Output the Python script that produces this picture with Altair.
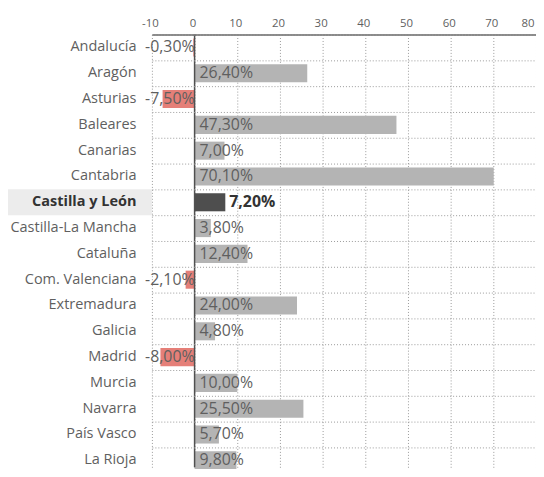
import altair as alt
import pandas as pd

regions = ["Andalucía", "Aragón", "Asturias", "Baleares", "Canarias", "Cantabria",
           "Castilla y León", "Castilla-La Mancha", "Cataluña", "Com. Valenciana",
           "Extremadura", "Galicia", "Madrid", "Murcia", "Navarra", "País Vasco", "La Rioja"]
values = [-0.3, 26.4, -7.5, 47.3, 7.0, 70.1, 7.2, 3.8, 12.4, -2.1, 24.0, 4.8, -8.0,
          10.0, 25.5, 5.7, 9.8]
highlight = "Castilla y León"
ticks = [-10, 0, 10, 20, 30, 40, 50, 60, 70, 80]


def fmt(v):
    return f"{v:.2f}".replace(".", ",") + "%"


df = pd.DataFrame({
    "region": regions,
    "value": values,
    "label": [fmt(v) for v in values],
    "kind": ["hl" if r == highlight else ("neg" if v < 0 else "pos")
             for r, v in zip(regions, values)],
})

FONT = "Open Sans"
TXT = "#5f5f5f"
VFS = 16

yenc = alt.Y(
    "region:N", sort=regions, title=None,
    scale=alt.Scale(range=[0, 442], paddingInner=0, paddingOuter=0),
    axis=alt.Axis(
        domain=False, ticks=False, labelPadding=16, labelFont=FONT, labelFontSize=14.6,
        labelColor={"condition": {"test": f"datum.value == '{highlight}'", "value": "#333333"},
                    "value": TXT},
        labelFontWeight={"condition": {"test": f"datum.value == '{highlight}'", "value": "bold"},
                         "value": "normal"},
        grid=True, bandPosition=0, gridDash=[1, 2], gridColor="#9a9a9a", gridWidth=1,
    ),
)

xscale = alt.Scale(domain=[-10, 80], nice=False, zero=False)
xaxis = alt.Axis(orient="top", values=ticks, ticks=False, domain=True,
                 domainColor="#8a8a8a", domainWidth=2, grid=True, gridDash=[1, 2],
                 gridColor="#9a9a9a", title=None,
                 labelFlush=False, labelExpr="'' + datum.value", labelOffset=-2,
                 labelAlign={"condition": {"test": "datum.value == 80", "value": "right"},
                             "value": "center"},
                 labelPadding=6, labelFont=FONT, labelFontSize=11.5, labelColor=TXT)

base = alt.Chart(df)

hl_bg = base.transform_filter(f"datum.region == '{highlight}'").mark_rect(
    color="#ececec").encode(x=alt.value(-145), x2=alt.value(0), y=yenc)

bars = base.mark_bar(height=alt.RelativeBandSize(0.7)).encode(
    x=alt.X("value:Q", scale=xscale, axis=xaxis),
    x2=alt.datum(0),
    y=yenc,
    color=alt.Color("kind:N", scale=alt.Scale(domain=["neg", "pos", "hl"],
                                              range=["#e57f78", "#b4b4b4", "#4e4e4e"]),
                    legend=None),
)

zero = alt.Chart(pd.DataFrame({"z": [0]})).mark_rule(color="#505050", strokeWidth=1.5).encode(
    x=alt.X("z:Q", scale=xscale))

pos_text = base.transform_filter("datum.kind == 'pos'").mark_text(
    align="left", baseline="middle", dx=5, font=FONT, fontSize=VFS, color=TXT).encode(
    x=alt.datum(0), y=yenc, text="label:N")

neg_text = base.transform_filter("datum.kind == 'neg'").mark_text(
    align="right", baseline="middle", dx=0, font=FONT, fontSize=VFS, color=TXT).encode(
    x=alt.datum(0), y=yenc, text="label:N")

hl_text = base.transform_filter("datum.kind == 'hl'").mark_text(
    align="left", baseline="middle", dx=4, font=FONT, fontSize=VFS, fontWeight="bold",
    color="#333333").encode(x="value:Q", y=yenc, text="label:N")

chart = alt.layer(hl_bg, bars, zero, pos_text, neg_text, hl_text).properties(
    width=387, height=436,
    autosize=alt.AutoSizeParams(type="none"),
    padding={"left": 145, "top": 25, "right": 0, "bottom": 0},
    background="white",
).configure_view(stroke=None)

chart.save("out.html", embed_options={"renderer": "svg", "actions": False})
